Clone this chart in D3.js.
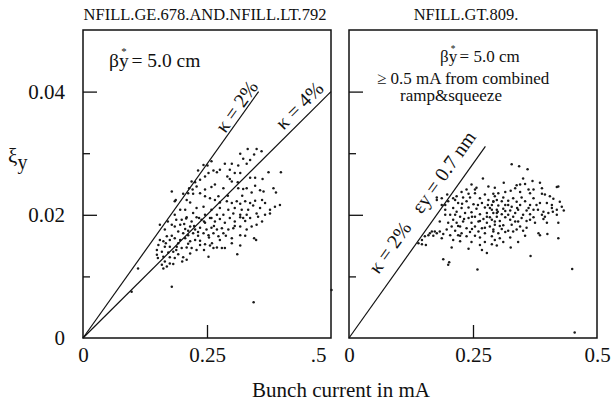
<!DOCTYPE html>
<html>
<head>
<meta charset="utf-8">
<script src="https://cdn.jsdelivr.net/npm/d3@7"></script>
<style>
  body { margin: 0; background: #fff; }
  text { font-family: "Liberation Serif", "Times New Roman", serif; fill: #111; }
</style>
</head>
<body>
<div id="chart"></div>
<script>
var w = 613, h = 402;

// panel titles and axis labels
var panelTitles = ["NFILL.GE.678.AND.NFILL.LT.792", "NFILL.GT.809."];
var xTickValues = [0, 0.25, 0.5];
var xTickLabelsLeft = ["0", "0.25", ".5"];
var xTickLabelsRight = ["0", "0.25", "0.5"];
var yMajorTicks = [0.02, 0.04];
var yMinorTicks = [0.01, 0.03];
var yLabelValues = [0, 0.02, 0.04];
var yTickLabels = ["0", "0.02", "0.04"];
var xTitle = "Bunch current in mA";

// kappa lines: [end current in mA, end xi]
var kappa2Left = [0.354, 0.04];
var kappa4Left = [0.5, 0.04];
var kappa2Right = [0.275, 0.0311];

// left panel: NFILL 678..792, [bunch current mA, xi_y]
var leftPoints = [
  [0.332,0.0307],[0.350,0.0307],[0.360,0.0303],[0.317,0.0299],[0.345,0.0298],[0.337,0.0289],[0.323,0.0291],
  [0.243,0.0281],[0.259,0.0287],[0.251,0.0280],[0.286,0.0283],[0.300,0.0283],[0.313,0.0280],[0.330,0.0283],
  [0.263,0.0272],[0.276,0.0273],[0.253,0.0268],[0.232,0.0272],[0.270,0.0269],[0.296,0.0273],[0.306,0.0268],
  [0.291,0.0262],[0.246,0.0262],[0.317,0.0268],[0.374,0.0269],[0.399,0.0269],[0.337,0.0260],[0.347,0.0260],
  [0.362,0.0258],[0.296,0.0258],[0.300,0.0254],[0.312,0.0253],[0.219,0.0254],[0.226,0.0253],[0.229,0.0246],
  [0.214,0.0243],[0.221,0.0241],[0.259,0.0245],[0.283,0.0243],[0.313,0.0243],[0.323,0.0242],[0.330,0.0243],
  [0.340,0.0236],[0.357,0.0240],[0.364,0.0238],[0.384,0.0243],[0.389,0.0236],[0.179,0.0238],[0.202,0.0234],
  [0.212,0.0235],[0.222,0.0234],[0.236,0.0235],[0.185,0.0222],[0.209,0.0224],[0.216,0.0220],[0.246,0.0230],
  [0.256,0.0227],[0.266,0.0224],[0.273,0.0230],[0.290,0.0222],[0.300,0.0219],[0.310,0.0222],[0.317,0.0218],
  [0.327,0.0222],[0.337,0.0219],[0.347,0.0223],[0.343,0.0215],[0.367,0.0219],[0.387,0.0213],[0.377,0.0208],
  [0.357,0.0211],[0.243,0.0213],[0.229,0.0211],[0.259,0.0208],[0.276,0.0211],[0.293,0.0208],[0.306,0.0211],
  [0.320,0.0208],[0.333,0.0208],[0.206,0.0208],[0.222,0.0203],[0.246,0.0200],[0.270,0.0200],[0.283,0.0200],
  [0.303,0.0202],[0.317,0.0200],[0.330,0.0200],[0.350,0.0202],[0.367,0.0200],[0.234,0.0195],[0.209,0.0196],
  [0.259,0.0195],[0.296,0.0195],[0.323,0.0195],[0.187,0.0224],
  [0.199,0.0192],[0.208,0.0194],[0.219,0.0189],[0.229,0.0196],[0.239,0.0192],[0.246,0.0187],[0.256,0.0195],
  [0.266,0.0189],[0.276,0.0193],[0.286,0.0187],[0.306,0.0189],[0.317,0.0196],[0.327,0.0190],[0.337,0.0195],
  [0.353,0.0197],[0.350,0.0184],[0.330,0.0176],[0.340,0.0181],[0.317,0.0181],[0.303,0.0178],[0.293,0.0176],
  [0.280,0.0178],[0.270,0.0176],[0.259,0.0179],[0.249,0.0176],[0.236,0.0179],[0.226,0.0176],[0.216,0.0181],
  [0.206,0.0177],[0.196,0.0184],[0.185,0.0181],[0.179,0.0184],[0.192,0.0173],[0.202,0.0170],[0.212,0.0167],
  [0.222,0.0170],[0.232,0.0166],[0.243,0.0170],[0.253,0.0167],[0.263,0.0170],[0.273,0.0165],[0.283,0.0170],
  [0.300,0.0162],[0.317,0.0167],[0.300,0.0154],[0.345,0.0162],[0.349,0.0159],[0.169,0.0165],[0.175,0.0159],
  [0.185,0.0162],[0.196,0.0159],[0.206,0.0162],[0.216,0.0157],[0.226,0.0159],[0.236,0.0151],[0.246,0.0152],
  [0.256,0.0150],[0.270,0.0147],[0.280,0.0146],[0.263,0.0146],[0.162,0.0157],[0.152,0.0151],[0.165,0.0148],
  [0.175,0.0148],[0.189,0.0148],[0.199,0.0146],[0.209,0.0147],[0.219,0.0146],[0.229,0.0143],[0.149,0.0143],
  [0.159,0.0140],[0.172,0.0139],[0.182,0.0140],[0.192,0.0136],[0.202,0.0131],[0.209,0.0127],[0.149,0.0135],
  [0.162,0.0132],[0.175,0.0131],[0.185,0.0130],[0.165,0.0124],[0.175,0.0121],[0.159,0.0119],[0.169,0.0116],
  [0.162,0.0113],[0.182,0.0120],[0.253,0.0132],[0.311,0.0136],[0.179,0.0083],[0.344,0.0058],[0.111,0.0113],
  [0.098,0.0075],[0.501,0.0078],
  [0.171,0.0189],[0.188,0.0192],[0.204,0.0185],[0.224,0.0182],[0.244,0.0189],[0.264,0.0182],[0.212,0.0174],
  [0.232,0.0172],[0.254,0.0163],[0.276,0.0159],[0.288,0.0166],[0.192,0.0154],[0.212,0.0153],[0.244,0.0143],
  [0.179,0.0166],[0.155,0.0159],[0.167,0.0154],[0.151,0.0130],[0.188,0.0143],[0.200,0.0124],[0.216,0.0137],
  [0.236,0.0158],[0.260,0.0154],[0.306,0.0182],[0.327,0.0166],[0.361,0.0189],[0.377,0.0202],[0.397,0.0216],
  [0.361,0.0224],[0.292,0.0231],[0.276,0.0220],[0.246,0.0241],[0.236,0.0257],[0.266,0.0249],[0.321,0.0231],
  [0.347,0.0247],[0.196,0.0208],[0.185,0.0200],[0.165,0.0176],[0.155,0.0184],[0.317,0.0150],[0.286,0.0146]
];

// right panel: NFILL > 809, [bunch current mA, xi_y]
var rightPoints = [
  [0.270,0.0259],[0.247,0.0249],[0.257,0.0244],[0.281,0.0246],[0.237,0.0241],[0.227,0.0237],[0.241,0.0234],
  [0.254,0.0235],[0.274,0.0233],[0.291,0.0234],[0.217,0.0230],[0.230,0.0228],[0.264,0.0227],[0.281,0.0224],
  [0.210,0.0227],[0.200,0.0222],[0.187,0.0227],[0.177,0.0228],[0.194,0.0216],[0.220,0.0219],[0.237,0.0222],
  [0.251,0.0217],[0.268,0.0219],[0.291,0.0221],[0.210,0.0211],[0.227,0.0211],[0.241,0.0212],[0.257,0.0210],
  [0.274,0.0212],[0.288,0.0208],[0.217,0.0205],[0.234,0.0203],[0.247,0.0204],[0.264,0.0201],[0.278,0.0203],
  [0.298,0.0203],[0.204,0.0200],[0.224,0.0197],[0.241,0.0195],[0.254,0.0197],[0.271,0.0193],[0.284,0.0196],
  [0.210,0.0192],[0.200,0.0187],[0.217,0.0187],[0.230,0.0189],[0.247,0.0187],[0.261,0.0189],[0.278,0.0187],
  [0.294,0.0189],[0.207,0.0181],[0.224,0.0181],[0.237,0.0178],[0.254,0.0181],[0.268,0.0178],[0.284,0.0181],
  [0.197,0.0176],[0.214,0.0174],[0.227,0.0170],[0.244,0.0172],[0.261,0.0173],[0.274,0.0170],[0.291,0.0173],
  [0.204,0.0167],[0.220,0.0167],[0.237,0.0165],[0.254,0.0166],[0.288,0.0165],[0.167,0.0173],[0.177,0.0170],
  [0.183,0.0173],[0.190,0.0169],[0.160,0.0167],[0.170,0.0166],[0.153,0.0165],[0.187,0.0162],[0.210,0.0159],
  [0.224,0.0157],[0.247,0.0156],[0.264,0.0151],[0.274,0.0156],[0.288,0.0152],[0.147,0.0159],[0.147,0.0152],
  [0.155,0.0151],[0.207,0.0147],[0.241,0.0145],[0.268,0.0143],[0.278,0.0138],[0.190,0.0128],[0.202,0.0123],
  [0.259,0.0111],[0.177,0.0224],[0.187,0.0216],[0.194,0.0208],[0.140,0.0154],[0.163,0.0170],[0.173,0.0173],
  [0.200,0.0119],
  [0.328,0.0282],[0.343,0.0279],[0.360,0.0274],[0.312,0.0252],[0.351,0.0259],[0.370,0.0255],[0.385,0.0252],
  [0.338,0.0248],[0.355,0.0250],[0.419,0.0245],[0.389,0.0243],[0.335,0.0243],[0.326,0.0239],[0.362,0.0241],
  [0.372,0.0241],[0.301,0.0235],[0.345,0.0237],[0.365,0.0235],[0.389,0.0234],[0.405,0.0230],[0.294,0.0230],
  [0.311,0.0228],[0.331,0.0227],[0.348,0.0228],[0.372,0.0227],[0.412,0.0226],[0.425,0.0221],[0.291,0.0222],
  [0.308,0.0222],[0.321,0.0223],[0.338,0.0221],[0.355,0.0222],[0.385,0.0219],[0.399,0.0219],[0.288,0.0216],
  [0.301,0.0215],[0.315,0.0216],[0.328,0.0213],[0.345,0.0216],[0.362,0.0211],[0.378,0.0216],[0.429,0.0213],
  [0.409,0.0211],[0.284,0.0211],[0.298,0.0208],[0.311,0.0210],[0.325,0.0207],[0.341,0.0208],[0.358,0.0207],
  [0.372,0.0208],[0.392,0.0205],[0.419,0.0208],[0.433,0.0207],[0.291,0.0203],[0.308,0.0201],[0.321,0.0200],
  [0.335,0.0203],[0.351,0.0200],[0.365,0.0201],[0.389,0.0200],[0.402,0.0203],[0.419,0.0200],[0.298,0.0197],
  [0.315,0.0196],[0.331,0.0197],[0.348,0.0195],[0.372,0.0196],[0.392,0.0193],[0.288,0.0192],[0.304,0.0190],
  [0.325,0.0192],[0.341,0.0189],[0.358,0.0190],[0.375,0.0187],[0.399,0.0187],[0.422,0.0187],[0.294,0.0184],
  [0.311,0.0183],[0.328,0.0184],[0.345,0.0181],[0.358,0.0179],[0.291,0.0176],[0.308,0.0177],[0.321,0.0174],
  [0.338,0.0176],[0.351,0.0174],[0.301,0.0170],[0.315,0.0172],[0.331,0.0173],[0.294,0.0159],[0.304,0.0162],
  [0.311,0.0156],[0.298,0.0150],[0.341,0.0156],[0.326,0.0147],[0.382,0.0170],[0.385,0.0167],[0.400,0.0169],
  [0.422,0.0162],[0.366,0.0133],[0.450,0.0112],[0.455,0.0009],[0.422,0.0246],
  [0.214,0.0224],[0.228,0.0218],[0.244,0.0228],[0.260,0.0216],[0.280,0.0216],[0.298,0.0224],[0.315,0.0206],
  [0.214,0.0200],[0.232,0.0193],[0.248,0.0197],[0.264,0.0190],[0.278,0.0197],[0.300,0.0205],[0.321,0.0216],
  [0.339,0.0211],[0.365,0.0216],[0.381,0.0208],[0.220,0.0182],[0.248,0.0177],[0.274,0.0179],[0.304,0.0182],
  [0.335,0.0189],[0.365,0.0192],[0.395,0.0197],[0.411,0.0205],[0.194,0.0200],[0.183,0.0189],[0.198,0.0233],
  [0.254,0.0241],[0.294,0.0244],[0.315,0.0237],[0.345,0.0249],[0.395,0.0233],[0.409,0.0216],[0.224,0.0166],
  [0.264,0.0163],[0.325,0.0163],[0.355,0.0166]
];

// panel geometry
var plotTop = 30, plotBottom = 338;
var panels = [
  { left: 83, right: 331, title: panelTitles[0], points: leftPoints, xLabels: xTickLabelsLeft, yLabels: true },
  { left: 349, right: 597, title: panelTitles[1], points: rightPoints, xLabels: xTickLabelsRight, yLabels: false }
];

var svg = d3.select("#chart")
  .append("svg")
    .attr("width", w)
    .attr("height", h);

var yScale = d3.scaleLinear().domain([0, 0.05]).range([plotBottom, plotTop]);

panels.forEach(function(p, pi) {
  p.x = d3.scaleLinear().domain([0, 0.5]).range([p.left, p.right]);
  var g = svg.append("g");

  // frame
  g.append("rect")
    .attr("x", p.left).attr("y", plotTop)
    .attr("width", p.right - p.left).attr("height", plotBottom - plotTop)
    .attr("fill", "none").attr("stroke", "#111").attr("stroke-width", 1.5);

  // inward ticks
  var major = g.append("g").attr("transform", "translate(" + p.left + ",0)")
    .call(d3.axisLeft(yScale).tickValues(yMajorTicks).tickSize(-14).tickFormat(""));
  var minor = g.append("g").attr("transform", "translate(" + p.left + ",0)")
    .call(d3.axisLeft(yScale).tickValues(yMinorTicks).tickSize(-7).tickFormat(""));
  var xt = g.append("g").attr("transform", "translate(0," + plotBottom + ")")
    .call(d3.axisBottom(p.x).tickValues([0.25]).tickSize(-13).tickFormat(""));
  [major, minor, xt].forEach(function(a) {
    a.select(".domain").remove();
    a.selectAll("line").attr("stroke", "#111").attr("stroke-width", 1.3);
  });

  // x tick labels
  var xl = g.append("g").attr("transform", "translate(0," + plotBottom + ")")
    .call(d3.axisBottom(p.x).tickValues(xTickValues).tickSize(0).tickPadding(9)
      .tickFormat(function(d, i) { return p.xLabels[i]; }));
  xl.select(".domain").remove();
  xl.selectAll("text").attr("font-size", 21).attr("font-family", null).style("fill", "#111");
  if (pi === 0) {
    xl.selectAll("text").filter(function(d) { return d === 0.5; })
      .attr("text-anchor", "end").attr("x", -5);
  }

  // y tick labels (left panel only)
  if (p.yLabels) {
    var yl = g.append("g").attr("transform", "translate(" + p.left + ",0)")
      .call(d3.axisLeft(yScale).tickValues(yLabelValues).tickSize(0).tickPadding(18)
        .tickFormat(function(d, i) { return yTickLabels[i]; }));
    yl.select(".domain").remove();
    yl.selectAll("text").attr("font-size", 21).attr("font-family", null).style("fill", "#111");
  }

  // title
  svg.append("text")
    .attr("x", (p.left + p.right) / 2 - (pi === 0 ? 2 : 7))
    .attr("y", 20)
    .attr("text-anchor", "middle")
    .attr("font-size", 16.5)
    .text(p.title);

  // points
  g.append("g")
    .selectAll("circle")
    .data(p.points)
    .enter()
    .append("circle")
    .attr("cx", function(d) { return p.x(d[0]); })
    .attr("cy", function(d) { return yScale(d[1]); })
    .attr("r", 1.25)
    .attr("fill", "#1a1a1a");
});

// kappa line with a label along it (label parts separated by a gap)
function kappaLine(p, end, parts, at, off, size) {
  var x0 = p.x(0), y0 = yScale(0), x1 = p.x(end[0]), y1 = yScale(end[1]);
  svg.append("line")
    .attr("x1", x0).attr("y1", y0).attr("x2", x1).attr("y2", y1)
    .attr("stroke", "#111").attr("stroke-width", 1.2);
  var len = Math.hypot(x1 - x0, y1 - y0);
  var dx = (x1 - x0) / len, dy = (y1 - y0) / len;
  var slope = end[1] / end[0];
  var fx = p.x(at) + off * dy, fy = yScale(at * slope) - off * dx;
  var angle = Math.atan2(dy, dx) * 180 / Math.PI;
  var t = svg.append("text")
    .attr("transform", "translate(" + fx + "," + fy + ") rotate(" + angle + ")")
    .attr("text-anchor", "middle")
    .attr("font-size", size);
  parts.forEach(function(s, i) {
    t.append("tspan").attr("dx", i ? 16 : 0).text(s);
  });
}
kappaLine(panels[0], kappa2Left, ["κ = 2%"], 0.325, 2.5, 20);
kappaLine(panels[0], kappa4Left, ["κ = 4%"], 0.454, 5.7, 20);
kappaLine(panels[1], kappa2Right, ["κ = 2%", "εy = 0.7 nm"], 0.179, 12.4, 20);

// beta* annotations
function betaText(x, y, size) {
  var t = svg.append("text").attr("x", x).attr("y", y).attr("font-size", size);
  t.append("tspan").text("βy");
  t.append("tspan").attr("dx", -0.38 * size).attr("dy", -0.6 * size).attr("font-size", size * 0.55).text("*");
  t.append("tspan").attr("dy", 0.6 * size).text(" = 5.0 cm");
}
betaText(109, 67, 19.5);
betaText(440, 62, 17);

svg.append("text").attr("x", 377).attr("y", 84).attr("font-size", 17).text("≥ 0.5 mA from combined");
svg.append("text").attr("x", 400).attr("y", 101).attr("font-size", 17).text("ramp&squeeze");

// axis titles
var yt = svg.append("text").attr("x", 8).attr("y", 163).attr("font-size", 21);
yt.append("tspan").text("ξ");
yt.append("tspan").attr("dy", 6).attr("font-size", 20).text("y");

svg.append("text")
  .attr("x", 341).attr("y", 397)
  .attr("text-anchor", "middle")
  .attr("font-size", 21)
  .text(xTitle);
</script>
</body>
</html>
